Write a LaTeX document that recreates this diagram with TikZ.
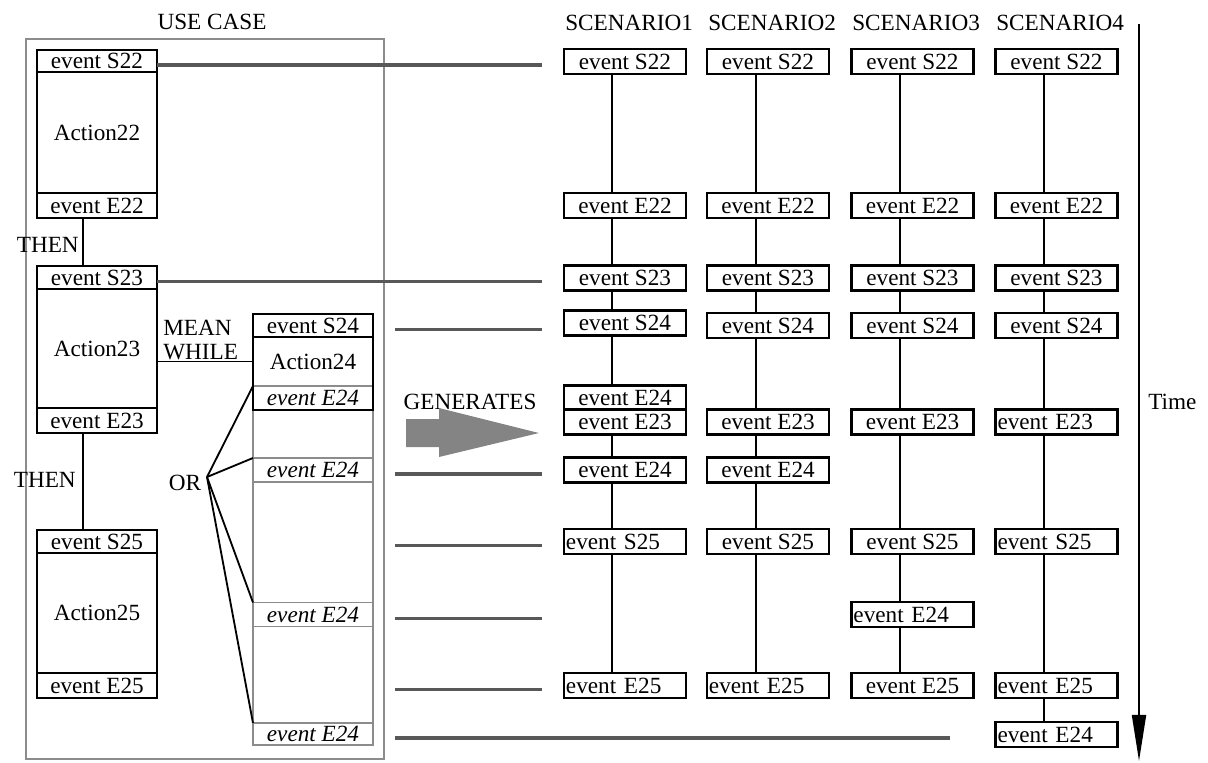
\documentclass[tikz,border=0pt]{standalone}
\usepackage{fontspec}
\setmainfont{Liberation Serif}
\usepackage{tikz}
\usetikzlibrary{shapes,arrows.meta,backgrounds,positioning}
\definecolor{ucgray}{RGB}{140,140,140}
\definecolor{lkgray}{RGB}{88,88,88}
\definecolor{gengray}{RGB}{132,132,132}
\tikzset{
  ev_box/.style = {rectangle, draw=black, line width=1.5pt, inner sep=0pt,
    outer sep=0pt, fill=white, minimum height=0.625cm},
  sc_c/.style = {ev_box, minimum width=3.05cm, text centered},% scenario, centre
  sc_l/.style = {ev_box, text width=2.95cm, inner xsep=0.05cm,
    align=left},% scenario, a gauche
  uc_ev/.style = {ev_box, minimum width=3cm},% use case, event
  uc_act/.style = {rectangle, draw=black, line width=1.5pt, inner sep=0pt,
    outer sep=0pt, minimum width=3cm},% use case, action
  uc_gr/.style = {rectangle, draw=ucgray, line width=1.3pt, inner sep=0pt,
    outer sep=0pt, minimum width=3cm, minimum height=0.6cm,
    font=\itshape},% event E24 possible
  link/.style = {draw=lkgray, line width=2.2pt},
  tline/.style = {draw=black, line width=1.3pt}
}

\begin{document}
\fontsize{16.5}{17.5}\selectfont
\begin{tikzpicture}[x=0.025cm, y=-0.025cm]
\useasboundingbox (0,0) rectangle (1208,762);
        % use case
        \node (uctitle) at (212,22) {USE CASE};
        \draw[draw=ucgray, line width=1.3pt] (26,39) rectangle (384,759);

        \node [uc_ev, minimum height=0.55cm] (s22) at (97,61) {event S22};
        \node [uc_act, minimum height=3.025cm, below=0pt of s22] (a22) {Action22};
        \node [uc_ev, below=0pt of a22] (e22) {event E22};

        \node [uc_ev, minimum height=0.575cm] (s23) at (97,277.5) {event S23};
        \node [uc_act, minimum height=2.975cm, below=0pt of s23] (a23) {Action23};
        \node [uc_ev, below=0pt of a23] (e23) {event E23};

        \node [uc_ev, minimum height=0.575cm] (s25) at (97,541.5) {event S25};
        \node [uc_act, minimum height=3cm, below=0pt of s25] (a25) {Action25};
        \node [uc_ev, below=0pt of a25] (e25) {event E25};

        \node [uc_ev, minimum height=0.575cm] (s24) at (313,325.5) {event S24};
        \node [uc_act, draw=none, minimum height=1.225cm, below=0pt of s24] (a24) {Action24};
        \node [uc_gr, below=0pt of a24] (x24a) {event E24};
        \node [uc_gr] (x24b) at (313,470) {event E24};
        \node [uc_gr] (x24c) at (313,614.5) {event E24};
        \node [uc_gr, minimum height=0.55cm] (x24d) at (313,734) {event E24};
        \draw[draw=ucgray, line width=1.3pt] (x24a.north west) rectangle (x24d.south east);
        \draw[black, line width=1.5pt] (s24.north west) rectangle (x24a.south east);

        \node [anchor=east, inner sep=0pt] (then1) at (79,245) {THEN};
        \node [anchor=east, inner sep=0pt] (then2) at (76,480) {THEN};
        \draw[tline] ([xshift=-0.35cm]e22.south) -- ([xshift=-0.35cm]s23.north);
        \draw[tline] ([xshift=-0.35cm]e23.south) -- ([xshift=-0.35cm]s25.north);

        \node [align=left, anchor=west, inner sep=0pt] (mw) at (163,340) {MEAN\\WHILE};
        \draw[tline] (a24.west -| a23.east) -- (a24.west);

        \node [inner sep=0pt] (or) at (185,483) {OR};
        \coordinate (orpt) at (207,477);
        \draw[tline] (orpt) -- (x24a.north west);
        \draw[tline] (orpt) -- (x24b.north west);
        \draw[tline] (orpt) -- (x24c.north west);
        \draw[tline] (orpt) -- (x24d.north west);

        % liens vers les scenarios
        \coordinate (lkstart) at (395,0);
        \coordinate (lkend) at (542,0);
        \coordinate (lkend2) at (950,0);
        \draw[link] ([yshift=-1mm]s22.east) -- ([yshift=-1mm]s22.east -| lkend);
        \draw[link] ([yshift=-1mm]s23.east) -- ([yshift=-1mm]s23.east -| lkend);
        \draw[link] ([yshift=-1mm]s24.center -| lkstart) -- ([yshift=-1mm]s24.center -| lkend);
        \draw[link] ([yshift=-1mm]x24b.center -| lkstart) -- ([yshift=-1mm]x24b.center -| lkend);
        \draw[link] ([yshift=-1mm]s25.center -| lkstart) -- ([yshift=-1mm]s25.center -| lkend);
        \draw[link] ([yshift=-1mm]x24c.center -| lkstart) -- ([yshift=-1mm]x24c.center -| lkend);
        \draw[link] ([yshift=-1mm]e25.center -| lkstart) -- ([yshift=-1mm]e25.center -| lkend);
        \draw[link] ([yshift=-1mm]x24d.center -| lkstart) -- ([yshift=-1mm]x24d.center -| lkend2);

        \node (gentxt) at (470,402) {GENERATES};
        \fill[gengray] (406,419) -- (439,419) -- (439,408) -- (539,433)
            -- (439,457) -- (439,447) -- (406,447) -- cycle;

        % scenarios
        \node [anchor=west, inner sep=0pt] (sc1) at (565,23) {SCENARIO1};
        \node [anchor=west, inner sep=0pt] (sc2) at (708,23) {SCENARIO2};
        \node [anchor=west, inner sep=0pt] (sc3) at (852,23) {SCENARIO3};
        \node [anchor=west, inner sep=0pt] (sc4) at (996,23) {SCENARIO4};

        \node [sc_c] (c1s22) at (625,61.5) {event S22};
        \node [sc_c] (c1e22) at (625,205.5) {event E22};
        \node [sc_c] (c1s23) at (625,278) {event S23};
        \node [sc_c] (c1s24) at (625,323) {event S24};
        \node [sc_c] (c1e24a) at (625,398) {event E24};
        \node [sc_c] (c1e23) at (625,422) {event E23};
        \node [sc_c] (c1e24b) at (625,470) {event E24};
        \node [sc_l] (c1s25) at (625,541.5) {event S25};
        \node [sc_l] (c1e25) at (625,685.5) {event E25};

        \node [sc_c] (c2s22) at (768,61.5) {event S22};
        \node [sc_c] (c2e22) at (768,205.5) {event E22};
        \node [sc_c] (c2s23) at (768,278) {event S23};
        \node [sc_c] (c2s24) at (768,325.5) {event S24};
        \node [sc_c] (c2e23) at (768,422) {event E23};
        \node [sc_c] (c2e24) at (768,470) {event E24};
        \node [sc_c] (c2s25) at (768,541.5) {event S25};
        \node [sc_l] (c2e25) at (768,685.5) {event E25};

        \node [sc_c] (c3s22) at (912.5,61.5) {event S22};
        \node [sc_c] (c3e22) at (912.5,205.5) {event E22};
        \node [sc_c] (c3s23) at (912.5,278) {event S23};
        \node [sc_c] (c3s24) at (912.5,325.5) {event S24};
        \node [sc_c] (c3e23) at (912.5,422) {event E23};
        \node [sc_c] (c3s25) at (912.5,541.5) {event S25};
        \node [sc_l] (c3e24) at (912.5,614.5) {event E24};
        \node [sc_c] (c3e25) at (912.5,685.5) {event E25};

        \node [sc_c] (c4s22) at (1056.5,61.5) {event S22};
        \node [sc_c] (c4e22) at (1056.5,205.5) {event E22};
        \node [sc_c] (c4s23) at (1056.5,278) {event S23};
        \node [sc_c] (c4s24) at (1056.5,325.5) {event S24};
        \node [sc_l] (c4e23) at (1056.5,422) {event E23};
        \node [sc_l] (c4s25) at (1056.5,541.5) {event S25};
        \node [sc_l] (c4e25) at (1056.5,685.5) {event E25};
        \node [sc_l] (c4e24) at (1056.5,734.5) {event E24};

        \coordinate (c1x) at (612,0);
        \coordinate (c2x) at (756,0);
        \coordinate (c3x) at (900,0);
        \coordinate (c4x) at (1044,0);
        \begin{pgfonlayer}{background}
        \draw[tline, line width=1.2pt] (c1s22 -| c1x) -- (c1e25 -| c1x);
        \draw[tline, line width=1.2pt] (c2s22 -| c2x) -- (c2e25 -| c2x);
        \draw[tline, line width=1.2pt] (c3s22 -| c3x) -- (c3e25 -| c3x);
        \draw[tline, line width=1.2pt] (c4s22 -| c4x) -- (c4e24 -| c4x);
        \end{pgfonlayer}

        % temps
        \node [anchor=west, inner sep=0pt] (tlabel) at (1148,402) {Time};
        \coordinate (ttop) at (1139,24);
        \coordinate (tbot) at (1139,761);
        \draw[line width=1.3pt, -{Triangle[length=1.15cm, width=0.35cm]}] (ttop) -- (tbot);
\end{tikzpicture}
\end{document}
